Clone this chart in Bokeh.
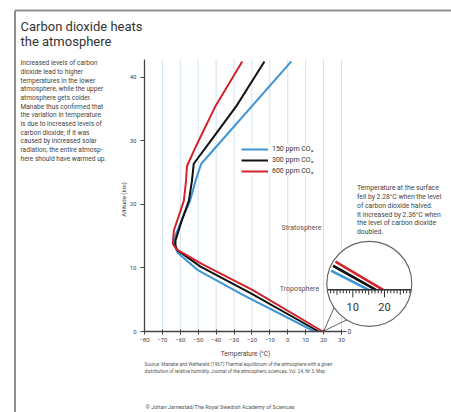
import math
from bokeh.plotting import figure
from bokeh.models import Label, Legend, LegendItem, FixedTicker
from bokeh.embed import file_html
from bokeh.resources import INLINE

# ---------------- data ----------------
temp_ticks = [-80, -70, -60, -50, -40, -30, -20, -10, 0, 10, 20, 30]
grid_ticks = [-70, -60, -50, -40, -30, -20, -10, 0, 10, 20, 30]
alt_ticks = [0, 10, 20, 30, 40]
alt_top = 42.8

t150 = [2.0, -48.3, -51.5, -54.5, -60.0, -63.5, -63.4, -61.5, -50.5, -24.5, 15.0]
z150 = [42.5, 26.4, 23.7, 20.6, 17.0, 14.6, 13.6, 12.4, 9.7, 5.7, 0.0]

t300 = [-13.0, -28.6, -42.2, -52.5, -53.5, -55.2, -59.5, -62.7, -62.7, -61.7, -48.7, -21.3, 17.3]
z300 = [42.5, 35.5, 30.3, 26.4, 23.7, 20.6, 17.2, 14.3, 13.5, 12.8, 10.2, 6.1, 0.0]

t600 = [-25.4, -40.3, -51.5, -56.3, -56.8, -58.0, -63.6, -64.2, -61.9, -47.0, -19.5, 19.6]
z600 = [42.5, 35.5, 29.0, 26.0, 23.7, 20.6, 15.9, 13.8, 12.9, 10.5, 6.5, 0.0]

series_names = ["150 ppm CO\u2082", "300 ppm CO\u2082", "600 ppm CO\u2082"]
series_colors = ["#3d95d5", "#111111", "#d2232a"]

inset_labels = [10, 20]

title_lines = ["Carbon dioxide heats", "the atmosphere"]
intro_lines = [
    "Increased levels of carbon",
    "dioxide lead to higher",
    "temperatures in the lower",
    "atmosphere, while the upper",
    "atmosphere gets colder.",
    "Manabe thus confirmed that",
    "the variation in temperature",
    "is due to increased levels of",
    "carbon dioxide; if it was",
    "caused by increased solar",
    "radiation, the entire atmosp-",
    "here should have warmed up.",
]
note_lines = [
    "Temperature at the surface",
    "fell by 2.28\u00b0C when the level",
    "of carbon dioxide halved.",
    "It increased by 2.36\u00b0C when",
    "the level of carbon dioxide",
    "doubled.",
]
source_lines = [
    "Source: Manabe and Wetherald (1967) Thermal equilibrium of the atmosphere with a given",
    "distribution of relative humidity, Journal of the atmospheric sciences, Vol. 24, Nr 3, May.",
]
credit = "\u00a9 Johan Jarnestad/The Royal Swedish Academy of Sciences"

# ---------------- geometry (frame = whole canvas) ----------------
W, H = 451, 412
AXIS_X_PX, AXIS_Y_PX = 144.0, 331.0     # where T=-80 and Z=0 sit on the canvas
SX, SY = 1.7904, 6.355                   # px per degree / px per km
X0 = temp_ticks[0] - AXIS_X_PX / SX
X1 = temp_ticks[0] + (W - AXIS_X_PX) / SX
Y0 = -(H - AXIS_Y_PX) / SY
Y1 = AXIS_Y_PX / SY
FONT = "Roboto"
TXT = "#444444"


def wx(px):
    return X0 + px / SX


def wy(py):
    return Y1 - py / SY


def sxp(t):
    return (t - X0) * SX


def syp(z):
    return (Y1 - z) * SY


p = figure(width=W, height=H, x_range=(X0, X1), y_range=(Y0, Y1),
           output_backend="svg", toolbar_location=None, min_border=0)
p.outline_line_color = None
p.background_fill_color = "white"
p.border_fill_color = "white"
p.xgrid.visible = False
p.ygrid.visible = False

# axes drawn at fixed data locations inside the frame
xa = p.xaxis[0]
ya = p.yaxis[0]
xa.fixed_location = 0
ya.fixed_location = temp_ticks[0]
xa.ticker = FixedTicker(ticks=temp_ticks)
xa.bounds = (temp_ticks[0], temp_ticks[-1])
ya.ticker = FixedTicker(ticks=alt_ticks)
ya.bounds = (0, alt_top)
for ax in (xa, ya):
    ax.axis_line_color = "#444444"
    ax.axis_line_width = 1.3
    ax.major_tick_line_color = "#444444"
    ax.major_tick_line_width = 1
    ax.minor_tick_line_color = None
    ax.major_label_text_font = FONT
    ax.major_label_text_font_size = "6px"
    ax.major_label_text_color = TXT
xa.major_tick_in = 2
xa.major_tick_out = 3
xa.major_label_standoff = 3
ya.major_tick_in = 0
ya.major_tick_out = 4
ya.major_label_standoff = 4

# vertical grid lines
p.segment(x0=grid_ticks, y0=[0] * len(grid_ticks), x1=grid_ticks, y1=[alt_top] * len(grid_ticks),
          line_color="#cfe3f3", line_width=1, level="underlay")

# right-side zero tick at end of temperature axis
p.segment(x0=[temp_ticks[-1]], y0=[0], x1=[temp_ticks[-1] + 5 / SX], y1=[0],
          line_color="#444444", line_width=1)
p.add_layout(Label(x=temp_ticks[-1], y=0, x_offset=6, text="0", text_font=FONT,
                   text_font_size="7px", text_color=TXT, text_baseline="middle"))

# axis titles
p.add_layout(Label(x=wx(123), y=wy(199), text="Altitude (km)", angle=math.pi / 2,
                   text_font=FONT, text_font_size="6px", text_color=TXT,
                   text_align="center", text_baseline="middle"))
p.add_layout(Label(x=wx(245), y=wy(353.3), text="Temperature (\u00b0C)",
                   text_font=FONT, text_font_size="6.5px", text_color=TXT,
                   text_align="center", text_baseline="middle"))

# main curves
renderers = []
for t, z, c in zip([t150, t300, t600], [z150, z300, z600], series_colors):
    renderers.append(p.line(t, z, line_color=c, line_width=2))

# legend box: top-left at canvas (241, 138), height 38 -> bottom at 176
legend = Legend(items=[LegendItem(label=n, renderers=[r]) for n, r in zip(series_names, renderers)],
                location=(241, H - 176),
                glyph_width=27, glyph_height=10, label_height=10,
                label_text_font=FONT, label_text_font_size="7px", label_text_color="#333333",
                spacing=1, padding=3, margin=0, label_standoff=4,
                background_fill_color="white", background_fill_alpha=1,
                border_line_color=None)
p.add_layout(legend)

# region labels
p.add_layout(Label(x=wx(301), y=wy(227), text="Stratosphere", text_font=FONT, text_font_size="7px",
                   text_color="#555555", text_align="center", text_baseline="middle"))
p.add_layout(Label(x=wx(299), y=wy(288), text="Troposphere", text_font=FONT, text_font_size="7px",
                   text_color="#555555", text_align="center", text_baseline="middle"))

# ---------------- magnified inset ----------------
CX, CY, R = 368.8, 283.3, 42.5
M = 1.77
AX, AY, AT = 352.3, 289.3, 10.0


def ix(t):
    return AX + (t - AT) * M * SX


def iy(z):
    return AY - z * M * SY


tip = (sxp(t600[-1]) + 1, syp(0) - 0.5)
for ang in (122, 146):
    a = math.radians(ang)
    ex, ey = CX + R * math.cos(a), CY + R * math.sin(a)
    p.segment(x0=[wx(tip[0])], y0=[wy(tip[1])], x1=[wx(ex)], y1=[wy(ey)],
              line_color="#666666", line_width=1)

p.scatter(x=[wx(CX)], y=[wy(CY)], size=2 * R, marker="circle", fill_color="white",
          line_color="#666666", line_width=1.2)

for t, z, c in zip([t150, t300, t600], [z150, z300, z600], series_colors):
    ax_, ay_ = ix(t[-2]), iy(z[-2])
    bx_, by_ = ix(t[-1]), iy(z[-1])
    dx, dy = bx_ - ax_, by_ - ay_
    fx, fy = ax_ - CX, ay_ - CY
    qa = dx * dx + dy * dy
    qb = 2 * (fx * dx + fy * dy)
    qc = fx * fx + fy * fy - (R - 2) ** 2
    disc = max(qb * qb - 4 * qa * qc, 0)
    s_start = max((-qb - math.sqrt(disc)) / (2 * qa), 0)
    sx0, sy0 = ax_ + s_start * dx, ay_ + s_start * dy
    p.line([wx(sx0), wx(bx_)], [wy(sy0), wy(by_)], line_color=c, line_width=2.6)

half = math.sqrt(R ** 2 - (AY - CY) ** 2) - 0.5
p.segment(x0=[wx(CX - half)], y0=[wy(AY)], x1=[wx(CX + half)], y1=[wy(AY)],
          line_color="#333333", line_width=1.5)
tx0, ty0, tx1, ty1 = [], [], [], []
for k in range(0, 40):
    px_ = ix(k)
    if CX - half + 1 < px_ < CX + half - 1:
        ln = 7.5 if k % 10 == 0 else (5 if k % 5 == 0 else 3.5)
        tx0.append(wx(px_)); tx1.append(wx(px_))
        ty0.append(wy(AY)); ty1.append(wy(AY + ln))
p.segment(x0=tx0, y0=ty0, x1=tx1, y1=ty1, line_color="#333333", line_width=1)
for v in inset_labels:
    p.add_layout(Label(x=wx(ix(v)), y=wy(306), text=str(v), text_font=FONT, text_font_size="11px",
                       text_color="#333333", text_align="center", text_baseline="middle"))

# ---------------- texts ----------------
for i, s in enumerate(title_lines):
    p.add_layout(Label(x=wx(20), y=wy(25.7 + 15 * i), text=s, text_font=FONT, text_font_size="13px",
                       text_color="#333333", text_baseline="alphabetic"))
for i, s in enumerate(intro_lines):
    p.add_layout(Label(x=wx(20), y=wy(62.8 + 8.67 * i), text=s, text_font=FONT, text_font_size="6.6px",
                       text_color=TXT, text_baseline="middle"))
for i, s in enumerate(note_lines):
    p.add_layout(Label(x=wx(356.5), y=wy(187.7 + 8.8 * i), text=s, text_font=FONT, text_font_size="6.8px",
                       text_color=TXT, text_baseline="middle"))
for i, s in enumerate(source_lines):
    p.add_layout(Label(x=wx(144), y=wy(364.3 + 6.4 * i), text=s, text_font=FONT, text_font_size="4.7px",
                       text_color="#555555", text_baseline="middle"))
p.add_layout(Label(x=wx(145), y=wy(406.5), text=credit, text_font=FONT, text_font_size="5.5px",
                   text_color="#555555", text_baseline="middle"))

# page frame
p.segment(x0=[wx(14.5), wx(14.5)], y0=[wy(10), wy(10)], x1=[wx(14.5), wx(460)], y1=[wy(430), wy(10)],
          line_color="#8f8f8f", line_width=2)

open("out.html", "w").write(file_html(p, INLINE))
